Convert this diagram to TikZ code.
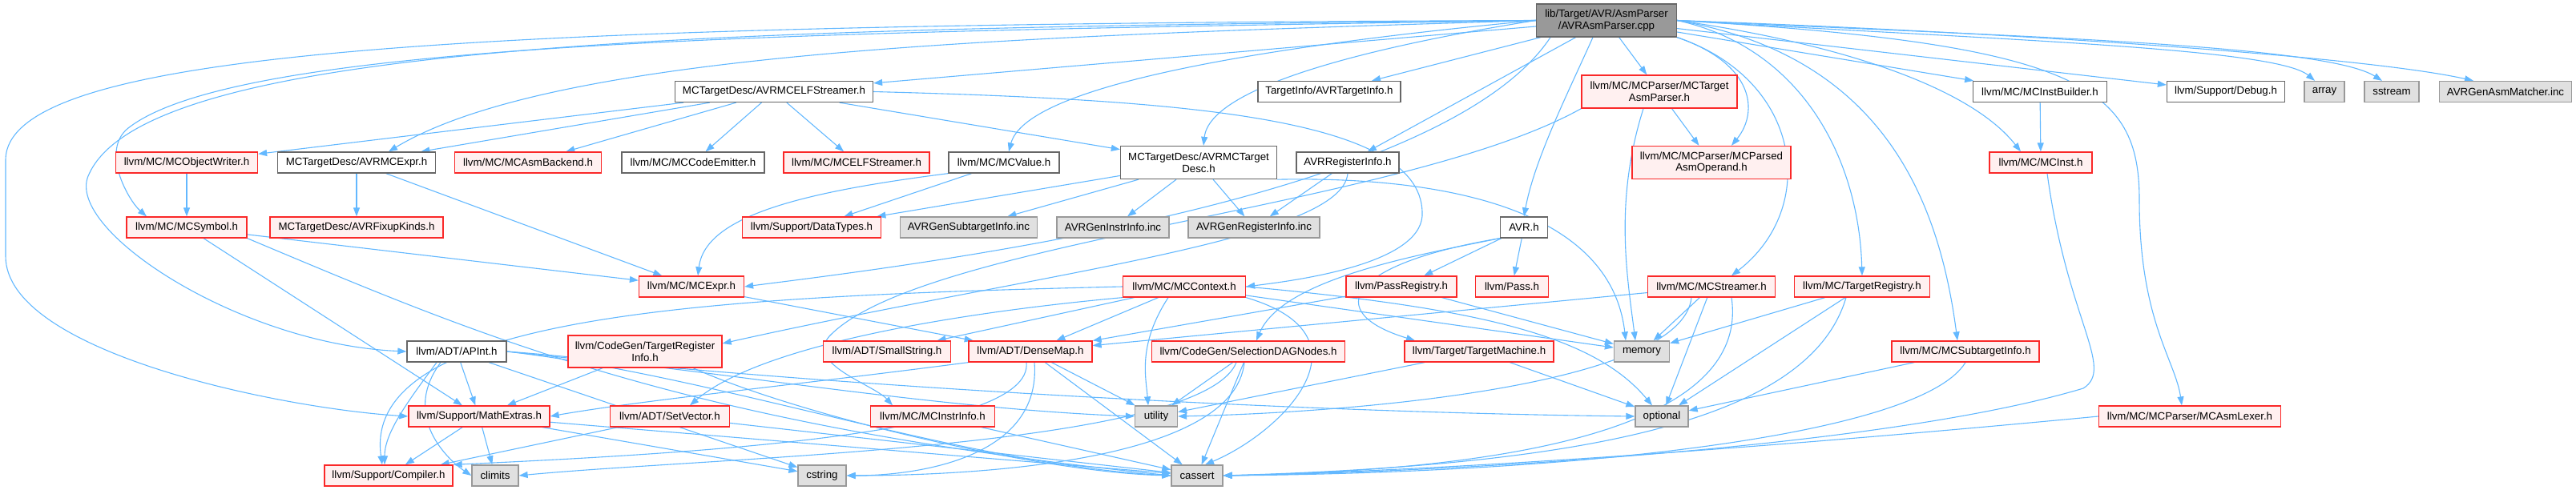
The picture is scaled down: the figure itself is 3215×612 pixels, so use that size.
\documentclass[tikz,border=0pt]{standalone}
\usepackage{fontspec}
\setmainfont{Liberation Sans}
\usetikzlibrary{arrows.meta,backgrounds}
\definecolor{EdgeBlue}{RGB}{99,184,255}
\definecolor{TruncRed}{RGB}{250,40,40}
\definecolor{TruncFill}{RGB}{255,240,240}
\definecolor{SysFill}{RGB}{224,224,224}
\definecolor{SysLine}{RGB}{153,153,153}
\definecolor{PlainLine}{RGB}{102,102,102}
\definecolor{MainFill}{RGB}{153,153,153}
\tikzset{
  filebox/.style={rectangle, line width=1.3pt, inner sep=0pt, minimum height=26pt, align=center, font=\fontsize{13.3}{14.7}\selectfont},
  plainhdr/.style={filebox, draw=PlainLine, fill=white},
  trunchdr/.style={filebox, draw=TruncRed, fill=TruncFill},
  syshdr/.style={filebox, draw=SysLine, fill=SysFill},
  mainsrc/.style={filebox, draw=PlainLine, fill=MainFill},
  twoline/.style={minimum height=41pt},
  incl/.style={draw=EdgeBlue, line width=1.1pt, -{Triangle[length=11pt,width=8pt]}}
}

\begin{document}
\begin{tikzpicture}[x=1pt, y=-1pt]
\useasboundingbox (0,0) rectangle (3215,612);
% main file
\node[mainsrc, twoline, minimum width=175pt] (main) at (2005,25.5) {lib/Target/AVR/AsmParser\\/AVRAsmParser.cpp};
% row 1
\node[plainhdr, minimum width=247pt] (elf) at (966,114.5) {MCTargetDesc/AVRMCELFStreamer.h};
\node[plainhdr, minimum width=178pt] (tinfo) at (1659,114.5) {TargetInfo/AVRTargetInfo.h};
\node[trunchdr, twoline, minimum width=194pt] (tasm) at (2071,114.5) {llvm/MC/MCParser/MCTarget\\AsmParser.h};
\node[plainhdr, minimum width=167pt] (ibuild) at (2546,114.5) {llvm/MC/MCInstBuilder.h};
\node[plainhdr, minimum width=147pt] (debug) at (2778,114.5) {llvm/Support/Debug.h};
\node[syshdr, minimum width=50pt] (array) at (2901,114.5) {array};
\node[syshdr, minimum width=68pt] (sstream) at (2985,114.5) {sstream};
\node[syshdr, minimum width=165pt] (gasm) at (3127,114.5) {AVRGenAsmMatcher.inc};
% row 2
\node[trunchdr, minimum width=177pt] (objw) at (233,203) {llvm/MC/MCObjectWriter.h};
\node[plainhdr, minimum width=197pt] (avrexpr) at (445,203) {MCTargetDesc/AVRMCExpr.h};
\node[trunchdr, minimum width=183pt] (asmb) at (659,203) {llvm/MC/MCAsmBackend.h};
\node[plainhdr, minimum width=178pt] (cemit) at (865,203) {llvm/MC/MCCodeEmitter.h};
\node[trunchdr, minimum width=182pt] (elfs) at (1069,203) {llvm/MC/MCELFStreamer.h};
\node[plainhdr, minimum width=138pt] (mcval) at (1253,203) {llvm/MC/MCValue.h};
\node[plainhdr, twoline, minimum width=195pt] (tdesc) at (1496,203) {MCTargetDesc/AVRMCTarget\\Desc.h};
\node[plainhdr, minimum width=128pt] (reginfo) at (1682,203) {AVRRegisterInfo.h};
\node[trunchdr, twoline, minimum width=198pt] (pasm) at (2136,203) {llvm/MC/MCParser/MCParsed\\AsmOperand.h};
\node[trunchdr, minimum width=128pt] (inst) at (2547,203) {llvm/MC/MCInst.h};
% row 3
\node[trunchdr, minimum width=150pt] (sym) at (233,284) {llvm/MC/MCSymbol.h};
\node[trunchdr, minimum width=216pt] (fixup) at (445,284) {MCTargetDesc/AVRFixupKinds.h};
\node[trunchdr, minimum width=173pt] (dtypes) at (1013,284) {llvm/Support/DataTypes.h};
\node[syshdr, minimum width=171pt] (gsub) at (1209,284) {AVRGenSubtargetInfo.inc};
\node[syshdr, minimum width=140pt] (ginstr) at (1389,284) {AVRGenInstrInfo.inc};
\node[syshdr, minimum width=164pt] (greg) at (1565,284) {AVRGenRegisterInfo.inc};
\node[plainhdr, minimum width=59pt] (avr) at (1902,284) {AVR.h};
% row 4
\node[trunchdr, minimum width=131pt] (expr) at (863,358) {llvm/MC/MCExpr.h};
\node[trunchdr, minimum width=153pt] (ctx) at (1478,358) {llvm/MC/MCContext.h};
\node[trunchdr, minimum width=138pt] (preg) at (1749,358) {llvm/PassRegistry.h};
\node[trunchdr, minimum width=91pt] (pass) at (1887,358) {llvm/Pass.h};
\node[trunchdr, minimum width=159pt] (strm) at (2136,358) {llvm/MC/MCStreamer.h};
\node[trunchdr, minimum width=169pt] (treg) at (2324,358) {llvm/MC/TargetRegistry.h};
% row 5
\node[plainhdr, minimum width=124pt] (apint) at (570,439) {llvm/ADT/APInt.h};
\node[trunchdr, minimum width=192pt, minimum height=40pt] (tri) at (805,439) {llvm/CodeGen/TargetRegister\\Info.h};
\node[trunchdr, minimum width=159pt] (sstr) at (1107,439) {llvm/ADT/SmallString.h};
\node[trunchdr, minimum width=154pt] (dmap) at (1286,439) {llvm/ADT/DenseMap.h};
\node[trunchdr, minimum width=241pt] (sdag) at (1558,439) {llvm/CodeGen/SelectionDAGNodes.h};
\node[trunchdr, minimum width=186pt] (tmach) at (1846,439) {llvm/Target/TargetMachine.h};
\node[syshdr, minimum width=69pt] (memory) at (2049,439) {memory};
\node[trunchdr, minimum width=184pt] (subt) at (2453,439) {llvm/MC/MCSubtargetInfo.h};
% row 6
\node[trunchdr, minimum width=176pt] (mext) at (598,520) {llvm/Support/MathExtras.h};
\node[trunchdr, minimum width=149pt] (setv) at (836,520) {llvm/ADT/SetVector.h};
\node[trunchdr, minimum width=155pt] (iinfo) at (1164,520) {llvm/MC/MCInstrInfo.h};
\node[syshdr, minimum width=53pt] (utility) at (1443,520) {utility};
\node[syshdr, minimum width=66pt] (optional) at (2074,520) {optional};
\node[trunchdr, minimum width=227pt] (lexer) at (2733,520) {llvm/MC/MCParser/MCAsmLexer.h};
% row 7
\node[trunchdr, minimum width=160pt] (comp) at (485,594) {llvm/Support/Compiler.h};
\node[syshdr, minimum width=58pt] (climits) at (618,594) {climits};
\node[syshdr, minimum width=60pt] (cstring) at (1026,594) {cstring};
\node[syshdr, minimum width=64pt] (cassert) at (1494,594) {cassert};

\begin{scope}[on background layer]
% main
\draw[incl] (main) -- (elf);
\draw[incl] (main) -- (tinfo);
\draw[incl] (main) -- (tasm);
\draw[incl] ([xshift=-17pt]main.south) .. controls (1955,120) and (1915,200) .. (avr.north);
\draw[incl] (main) -- (reginfo);
\draw[incl] (main.west) .. controls (1700,60) and (1510,110) .. ([xshift=6pt]tdesc.north);
\draw[incl] (main.west) .. controls (1550,60) and (1280,110) .. ([xshift=6pt]mcval.north);
\draw[incl] (main.west) .. controls (1300,45) and (700,60) .. ([xshift=40pt]avrexpr.north);
\draw[incl] (main.west) .. controls (1000,40) and (300,50) .. (160,160) .. controls (125,188) and (160,250) .. ([xshift=-50pt]sym.north);
\draw[incl] (main.west) .. controls (900,35) and (180,50) .. (110,220) .. controls (82,288) and (300,430) .. (apint.west);
\draw[incl] (main.west) .. controls (600,30) and (7,60) .. (7,200) -- (7,320) .. controls (7,440) and (350,510) .. (mext.west);
\draw[incl] ([xshift=-70pt]main.south) .. controls (1800,250) and (1150,330) .. (expr.east);
\draw[incl] (main.east) .. controls (2300,55) and (2460,110) .. ([xshift=-25pt]inst.north);
\draw[incl] (main) -- (ibuild);
\draw[incl] (main) -- (debug);
\draw[incl] (main.east) .. controls (2500,50) and (2840,60) .. ([xshift=-12pt]array.north);
\draw[incl] (main.east) .. controls (2500,45) and (2900,55) .. ([xshift=-12pt]sstream.north);
\draw[incl] (main.east) .. controls (2500,40) and (2950,70) .. ([xshift=-40pt]gasm.north);
\draw[incl] (main.south east) .. controls (2190,80) and (2195,140) .. ([xshift=25pt]pasm.north);
\draw[incl] (main.south east) .. controls (2250,100) and (2270,260) .. ([xshift=25pt]strm.north);
\draw[incl] (main.east) .. controls (2250,60) and (2320,200) .. (treg.north);
\draw[incl] (main.east) .. controls (2350,70) and (2420,250) .. ([xshift=-10pt]subt.north);
\draw[incl] (main.east) .. controls (2600,55) and (2670,110) .. (2670,250) .. controls (2670,400) and (2715,450) .. ([xshift=-10pt]lexer.north);
% elf streamer
\draw[incl] (elf) -- (objw);
\draw[incl] (elf) -- (avrexpr);
\draw[incl] (elf) -- (asmb);
\draw[incl] (elf) -- (cemit);
\draw[incl] (elf) -- (elfs);
\draw[incl] (elf) -- (tdesc);
\draw[incl] (elf.east) .. controls (1500,125) and (1780,150) .. (1775,270) .. controls (1770,330) and (1620,350) .. (ctx.east);
% avr mc expr
\draw[incl] (avrexpr) -- (fixup);
\draw[incl] (avrexpr) -- (expr);
\draw[incl] (objw) -- (sym);
% symbol
\draw[incl] (sym) -- (expr);
\draw[incl] (sym) -- (mext);
\draw[incl] (sym.south east) .. controls (600,420) and (850,530) .. (cassert.west);
% value
\draw[incl] (mcval) -- (dtypes);
\draw[incl] (mcval.south west) .. controls (1000,240) and (880,270) .. ([xshift=8pt]expr.north);
% target desc
\draw[incl] (tdesc) -- (dtypes);
\draw[incl] (tdesc) -- (gsub);
\draw[incl] (tdesc) -- (ginstr);
\draw[incl] (tdesc) -- (greg);
\draw[incl] (tdesc.south east) .. controls (1800,220) and (2010,260) .. ([xshift=-20pt]memory.north);
% register info
\draw[incl] (reginfo) -- (greg);
\draw[incl] (reginfo.south) .. controls (1675,300) and (1300,340) .. ([yshift=10pt]tri.east);
% target asm parser
\draw[incl] (tasm) -- (pasm);
\draw[incl] ([xshift=-20pt]tasm.south) .. controls (2015,250) and (2030,340) .. ([xshift=-8pt]memory.north);
\draw[incl] (tasm.south west) .. controls (1750,260) and (1150,300) .. (1035,420) .. controls (1005,455) and (1090,480) .. ([xshift=-50pt]iinfo.north);
% inst
\draw[incl] (ibuild) -- (inst);
\draw[incl] ([xshift=8pt]inst.south) .. controls (2580,400) and (2640,460) .. (2600,485) .. controls (2350,560) and (1800,590) .. (cassert.east);
% AVR.h
\draw[incl] (avr) -- (preg);
\draw[incl] (avr) -- (pass);
\draw[incl] (avr.south west) .. controls (1760,320) and (1600,350) .. ([xshift=10pt]sdag.north);
\draw[incl] (avr.south west) .. controls (1680,330) and (1650,390) .. ([xshift=-80pt]tmach.north);
\draw[incl] (expr) -- (dmap);
% context
\draw[incl] (ctx.west) .. controls (900,370) and (450,390) .. ([xshift=-8pt]comp.north);
\draw[incl] (ctx.south west) .. controls (1200,390) and (950,430) .. ([xshift=25pt]setv.north);
\draw[incl] (ctx) -- (sstr);
\draw[incl] (ctx) -- (dmap);
\draw[incl] ([xshift=-20pt]ctx.south) .. controls (1420,430) and (1430,470) .. ([xshift=-10pt]utility.north);
\draw[incl] (ctx.south east) .. controls (1720,420) and (1600,540) .. ([xshift=10pt]cassert.north);
\draw[incl] (ctx) -- (memory);
\draw[incl] (ctx.east) .. controls (1850,385) and (1990,420) .. ([xshift=-12pt]optional.north);
% pass registry
\draw[incl] (preg) -- (memory);
\draw[incl] (preg) -- (dmap);
% streamer
\draw[incl] (strm) -- (dmap);
\draw[incl] (strm) -- (memory);
\draw[incl] (strm) -- (optional);
\draw[incl] ([xshift=-25pt]strm.south) .. controls (2100,480) and (1700,515) .. (utility.east);
\draw[incl] ([xshift=25pt]strm.south) .. controls (2180,500) and (2000,585) .. (cassert.east);
% registry, subtarget, lexer
\draw[incl] (treg) -- (memory);
\draw[incl] (treg) -- (optional);
\draw[incl] ([xshift=-20pt]treg.south) .. controls (2260,520) and (2000,580) .. (cassert.east);
\draw[incl] (subt) -- (optional);
\draw[incl] (subt.south) .. controls (2400,540) and (2000,590) .. (cassert.east);
\draw[incl] (lexer.west) .. controls (2200,560) and (1800,588) .. (cassert.east);
% APInt
\draw[incl] (apint) -- (mext);
\draw[incl] ([xshift=-25pt]apint.south) .. controls (510,500) and (480,540) .. ([xshift=-5pt]comp.north);
\draw[incl] ([xshift=-20pt]apint.south) .. controls (500,520) and (560,575) .. (climits.west);
\draw[incl] (apint) -- (cstring);
\draw[incl] (apint.east) .. controls (900,470) and (1200,580) .. (cassert.west);
\draw[incl] (apint.east) .. controls (850,455) and (1150,510) .. (utility.west);
\draw[incl] (apint.east) .. controls (1000,480) and (1600,515) .. (optional.west);
% target register info
\draw[incl] (tri) -- (mext);
\draw[incl] ([xshift=60pt]tri.south) .. controls (1000,520) and (1300,590) .. (cassert.west);
% dense map
\draw[incl] (dmap.south west) .. controls (1000,480) and (800,500) .. (mext.east);
\draw[incl] ([xshift=-5pt]dmap.south) .. controls (1290,540) and (900,565) .. (comp.north east);
\draw[incl] ([xshift=5pt]dmap.south) .. controls (1300,570) and (1150,594) .. (cstring.east);
\draw[incl] (dmap) -- (utility);
\draw[incl] (dmap) -- (cassert);
% selection dag
\draw[incl] (sdag) -- (utility);
\draw[incl] (sdag) -- (cassert);
\draw[incl] ([xshift=-15pt]sdag.south) .. controls (1500,560) and (900,570) .. (climits.east);
\draw[incl] ([xshift=-5pt]sdag.south) .. controls (1540,580) and (1200,594) .. (cstring.east);
\draw[incl] (tmach) -- (utility);
\draw[incl] (tmach) -- (optional);
% math extras and the rest
\draw[incl] (mext) -- (comp);
\draw[incl] (mext) -- (climits);
\draw[incl] (mext) -- (cstring);
\draw[incl] (mext) -- (cassert);
\draw[incl] (setv) -- (comp);
\draw[incl] (setv) -- (cassert);
\draw[incl] (iinfo) -- (cassert);
\end{scope}
\end{tikzpicture}
\end{document}
